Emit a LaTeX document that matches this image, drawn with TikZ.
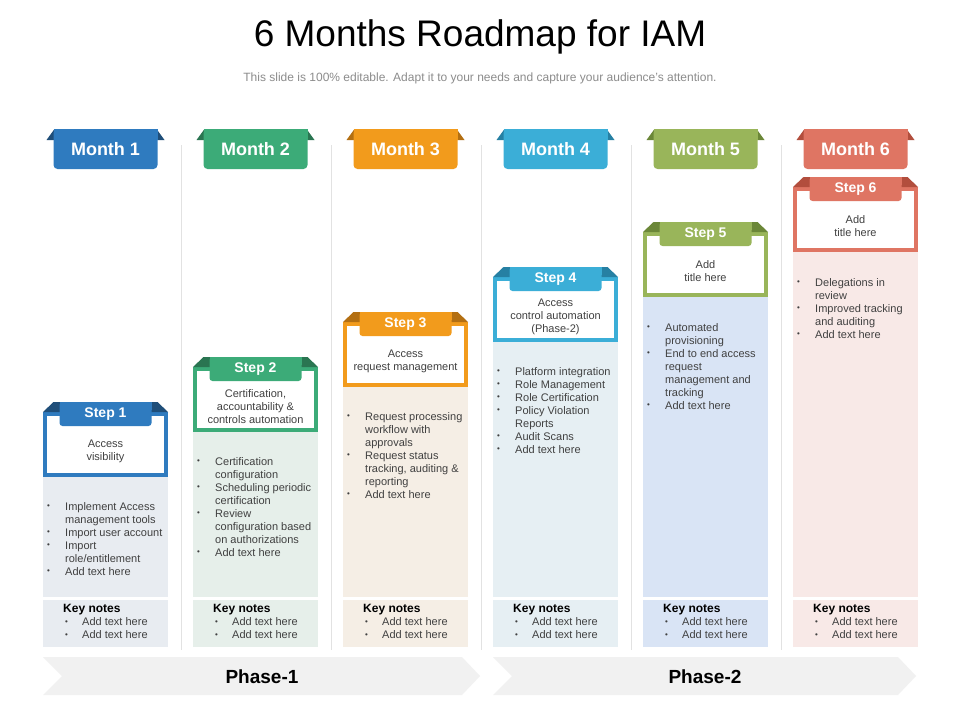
\documentclass[tikz,border=0pt]{standalone}
\usepackage{fontspec}
\setmainfont{Liberation Sans}

\definecolor{c1}{HTML}{2F7BBF}\definecolor{d1}{HTML}{1F4E79}\definecolor{p1}{HTML}{E8ECF1}
\definecolor{c2}{HTML}{3CAB78}\definecolor{d2}{HTML}{2A7551}\definecolor{p2}{HTML}{E6EFEA}
\definecolor{c3}{HTML}{F29B1C}\definecolor{d3}{HTML}{B36F12}\definecolor{p3}{HTML}{F5EEE5}
\definecolor{c4}{HTML}{3BAED7}\definecolor{d4}{HTML}{2680A3}\definecolor{p4}{HTML}{E6EFF3}
\definecolor{c5}{HTML}{99B55A}\definecolor{d5}{HTML}{6B8738}\definecolor{p5}{HTML}{D9E4F5}
\definecolor{c6}{HTML}{DF7563}\definecolor{d6}{HTML}{B24E3D}\definecolor{p6}{HTML}{F8E9E7}
\definecolor{sepline}{HTML}{E2E2E2}
\definecolor{phasegray}{HTML}{F1F1F1}
\definecolor{bodytxt}{HTML}{404040}
\definecolor{subtxt}{HTML}{8C8C8C}

\newcommand{\bdot}{\raisebox{1.3pt}{\fontsize{8}{8}\selectfont\textbullet}}
\newcommand{\bl}{\makebox[18pt][l]{\bdot}}
\newcommand{\nl}{\\\hspace*{18pt}}

\begin{document}
\begin{tikzpicture}[x=1pt,y=-1pt,
  monthlbl/.style={text=white,font=\fontsize{18}{20}\selectfont\bfseries,inner sep=0pt},
  steplbl/.style={text=white,font=\fontsize{14}{16}\selectfont\bfseries,inner sep=0pt},
  steptitle/.style={text=bodytxt,font=\fontsize{11}{13}\selectfont,align=center,inner sep=0pt},
  bullets/.style={text=bodytxt,font=\fontsize{11}{13}\selectfont,align=left,inner sep=0pt,anchor=north west},
  keynotes/.style={text=bodytxt,font=\fontsize{11}{13}\selectfont,align=left,inner sep=0pt,anchor=north west},
  phaselbl/.style={font=\fontsize{19}{21}\selectfont\bfseries,inner sep=0pt}]
   \useasboundingbox[fill=white] (0,0) rectangle (960,720);

   \path (480,37) node[font=\fontsize{37}{40}\selectfont] (title) {6 Months Roadmap for IAM};
   \path (480,78) node[text=subtxt,font=\fontsize{12}{14}\selectfont] (subtitle)
   {This slide is 100\% editable. Adapt it to your needs and capture your audience's attention.};

   % separators
   \foreach \k in {1,...,5}
     \draw[sepline,line width=0.8pt] (181+150*\k-150,145) -- (181+150*\k-150,650);

   % phases
   \fill[phasegray] (43,657) -- (462,657) -- (480,676) -- (462,695) -- (43,695) -- (62,676) -- cycle;
   \fill[phasegray] (493,657) -- (898,657) -- (916,676) -- (898,695) -- (493,695) -- (512,676) -- cycle;
   \path (262,677) node[phaselbl] (phase1) {Phase-1};
   \path (705,677) node[phaselbl] (phase2) {Phase-2};

   \foreach \i/\txt in {1/{Access\\visibility},
                        2/{Certification,\\accountability \&\\controls automation},
                        3/{Access\\request management},
                        4/{Access\\control automation\\(Phase-2)},
                        5/{Add\\title here},
                        6/{Add\\title here}}{
     \pgfmathsetmacro\L{43+150*(\i-1)}
     \pgfmathsetmacro\R{\L+125}
     \pgfmathsetmacro\C{\L+62.5}
     \pgfmathsetmacro\T{402-45*(\i-1)}
     \pgfmathsetmacro\B{477-45*(\i-1)}
     % month tab
     \fill[d\i] (\C-59,140) -- (\C-51,129) -- (\C+51,129) -- (\C+59,140) -- cycle;
     \fill[c\i,rounded corners=4pt] (\C-52,129) rectangle (\C+52,169);
     \fill[c\i] (\C-52,129) rectangle (\C+52,140);
     \path (\C,149) node[monthlbl] (month\i) {Month \i};
     % panels
     \fill[p\i] (\L,\T+10) rectangle (\R,597);
     \fill[p\i] (\L,600) rectangle (\R,647);
     % step box
     \draw[c\i,line width=4pt,fill=white] (\L+2,\T+12) rectangle (\R-2,\B-2);
     \fill[d\i] (\L,\T+10) -- (\C-52,\T) -- (\C+52,\T) -- (\R,\T+10) -- cycle;
     \fill[c\i,rounded corners=3pt] (\C-46,\T) rectangle (\C+46,\T+24);
     \fill[c\i] (\C-46,\T) rectangle (\C+46,\T+8);
     \path (\C,\T+12) node[steplbl] (step\i) {Step \i};
     \path (\C,\T/2+\B/2+12) node[steptitle] (steptitle\i) {\txt};
     \path (\L+20,604) node[keynotes] (keys\i)
     {\textcolor{black}{\fontsize{12}{13}\selectfont\bfseries Key notes}\\
      \hspace*{2pt}\makebox[17pt][l]{\bdot}Add text here\\
      \hspace*{2pt}\makebox[17pt][l]{\bdot}Add text here};
   }

   \path (47,502) node[bullets] (list1)
   {\bl Implement Access\nl management tools\\\bl Import user account\\
    \bl Import\nl role/entitlement\\\bl Add text here};
   \path (197,457) node[bullets] (list2)
   {\bl Certification\nl configuration\\\bl Scheduling periodic\nl certification\\
    \bl Review\nl configuration based\nl on authorizations\\\bl Add text here};
   \path (347,412) node[bullets] (list3)
   {\bl Request processing\nl workflow with\nl approvals\\
    \bl Request status\nl tracking, auditing \&\nl reporting\\\bl Add text here};
   \path (497,367) node[bullets] (list4)
   {\bl Platform integration\\\bl Role Management\\\bl Role Certification\\
    \bl Policy Violation\nl Reports\\\bl Audit Scans\\\bl Add text here};
   \path (647,323) node[bullets] (list5)
   {\bl Automated\nl provisioning\\\bl End to end access\nl request\nl management and\nl tracking\\
    \bl Add text here};
   \path (797,278) node[bullets] (list6)
   {\bl Delegations in\nl review\\\bl Improved tracking\nl and auditing\\\bl Add text here};
\end{tikzpicture}
\end{document}
